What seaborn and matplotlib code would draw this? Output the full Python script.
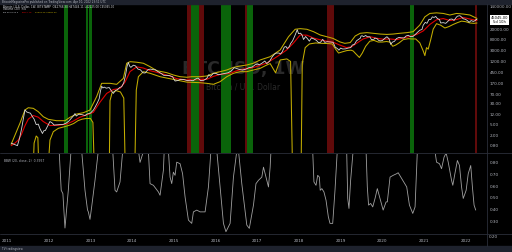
import matplotlib
matplotlib.use("Agg")
import matplotlib.pyplot as plt
from matplotlib.patches import Rectangle
import seaborn as sns

# ---------------- data ----------------
price_years = [2011.10, 2011.17, 2011.25, 2011.30, 2011.35, 2011.39, 2011.43, 2011.47, 2011.52, 2011.56,
               2011.60, 2011.65, 2011.70, 2011.75, 2011.79, 2011.85, 2011.88, 2011.92, 2011.97, 2012.03,
               2012.08, 2012.13, 2012.20, 2012.27, 2012.35, 2012.42, 2012.48, 2012.55, 2012.60, 2012.63,
               2012.66, 2012.72, 2012.80, 2012.87, 2012.93, 2013.00, 2013.07, 2013.12, 2013.17, 2013.21,
               2013.24, 2013.27, 2013.30, 2013.33, 2013.38, 2013.45, 2013.50, 2013.55, 2013.60, 2013.65,
               2013.70, 2013.75, 2013.80, 2013.84, 2013.88, 2013.91, 2013.94, 2013.97, 2014.03, 2014.08,
               2014.14, 2014.20, 2014.26, 2014.31, 2014.38, 2014.44, 2014.50, 2014.56, 2014.63, 2014.70,
               2014.76, 2014.83, 2014.90, 2014.97, 2015.03, 2015.10, 2015.16, 2015.24, 2015.32, 2015.40,
               2015.46, 2015.52, 2015.58, 2015.64, 2015.72, 2015.79, 2015.84, 2015.88, 2015.95, 2016.00,
               2016.07, 2016.14, 2016.20, 2016.30, 2016.38, 2016.45, 2016.50, 2016.57, 2016.64, 2016.72,
               2016.80, 2016.88, 2016.95, 2017.00, 2017.05, 2017.12, 2017.18, 2017.23, 2017.30, 2017.36,
               2017.41, 2017.46, 2017.52, 2017.56, 2017.60, 2017.65, 2017.69, 2017.72, 2017.77, 2017.80,
               2017.85, 2017.90, 2017.96, 2017.99, 2018.04, 2018.08, 2018.11, 2018.16, 2018.21, 2018.25,
               2018.30, 2018.36, 2018.42, 2018.47, 2018.52, 2018.57, 2018.62, 2018.68, 2018.75, 2018.82,
               2018.87, 2018.93, 2018.96, 2019.00, 2019.05, 2019.12, 2019.18, 2019.24, 2019.28, 2019.33,
               2019.38, 2019.42, 2019.47, 2019.49, 2019.52, 2019.55, 2019.60, 2019.64, 2019.70, 2019.74,
               2019.80, 2019.82, 2019.88, 2019.91, 2019.95, 2020.00, 2020.05, 2020.11, 2020.16, 2020.20,
               2020.24, 2020.29, 2020.34, 2020.40, 2020.45, 2020.52, 2020.57, 2020.62, 2020.68, 2020.74,
               2020.80, 2020.85, 2020.90, 2020.95, 2020.98, 2021.03, 2021.07, 2021.12, 2021.16, 2021.20,
               2021.24, 2021.28, 2021.32, 2021.37, 2021.40, 2021.46, 2021.52, 2021.57, 2021.62, 2021.67,
               2021.72, 2021.77, 2021.80, 2021.86, 2021.90, 2021.94, 2021.99, 2022.04, 2022.08, 2022.13,
               2022.18, 2022.23, 2022.25, 2022.27]
price_vals = [1.0, 0.9, 0.8, 1.5, 3.5, 8.0, 18.0, 15.0, 14.0, 13.5,
              10.5, 8.0, 5.0, 5.2, 3.5, 2.3, 2.9, 3.0, 4.3, 6.5,
              5.8, 4.8, 4.9, 5.0, 5.1, 5.7, 6.7, 9.0, 11.0, 13.0,
              10.5, 12.3, 11.8, 11.0, 12.6, 13.5, 17.5, 24.0, 34.0, 47.0,
              90.0, 140.0, 120.0, 130.0, 118.0, 125.0, 95.0, 75.0, 97.0, 104.0,
              125.0, 134.0, 190.0, 350.0, 800.0, 1100.0, 800.0, 720.0, 870.0, 820.0,
              620.0, 580.0, 450.0, 440.0, 590.0, 620.0, 590.0, 580.0, 490.0, 420.0,
              360.0, 360.0, 350.0, 320.0, 220.0, 230.0, 255.0, 250.0, 230.0, 235.0,
              225.0, 260.0, 285.0, 230.0, 235.0, 275.0, 380.0, 330.0, 430.0, 430.0,
              380.0, 400.0, 415.0, 450.0, 530.0, 700.0, 660.0, 600.0, 570.0, 610.0,
              700.0, 740.0, 900.0, 970.0, 900.0, 1050.0, 1250.0, 1000.0, 1250.0, 1800.0,
              2250.0, 2500.0, 2500.0, 2300.0, 2800.0, 4200.0, 4400.0, 3700.0, 4400.0, 5700.0,
              7300.0, 11000.0, 19000.0, 13500.0, 14000.0, 11500.0, 8100.0, 10500.0, 8500.0, 7000.0,
              9300.0, 8500.0, 7500.0, 6200.0, 6400.0, 8200.0, 6300.0, 6700.0, 6500.0, 6350.0,
              4200.0, 3600.0, 3200.0, 3850.0, 3550.0, 3600.0, 3850.0, 4000.0, 5000.0, 5300.0,
              7200.0, 8000.0, 9000.0, 11000.0, 11200.0, 10300.0, 11500.0, 10300.0, 10200.0, 8000.0,
              8300.0, 9200.0, 8600.0, 7500.0, 7200.0, 7400.0, 8700.0, 10300.0, 8700.0, 5300.0,
              6400.0, 6900.0, 8800.0, 9700.0, 9400.0, 9200.0, 11000.0, 11700.0, 10300.0, 10700.0,
              13000.0, 15500.0, 18200.0, 19300.0, 28000.0, 36000.0, 33000.0, 47000.0, 46000.0, 58000.0,
              55000.0, 60000.0, 50000.0, 46000.0, 34000.0, 35000.0, 33000.0, 39000.0, 47000.0, 48000.0,
              42500.0, 55000.0, 61500.0, 64000.0, 57000.0, 49000.0, 47000.0, 42000.0, 36000.0, 42000.0,
              39000.0, 42000.0, 47000.0, 45045.0]

sma_years = [2011.10, 2011.19, 2011.27, 2011.35, 2011.43, 2011.51, 2011.63, 2011.75, 2011.87, 2012.03,
             2012.23, 2012.43, 2012.59, 2012.75, 2012.91, 2013.07, 2013.23, 2013.39, 2013.55, 2013.71,
             2013.83, 2013.95, 2014.11, 2014.27, 2014.43, 2014.59, 2014.75, 2014.91, 2015.07, 2015.31,
             2015.63, 2015.79, 2015.95, 2016.11, 2016.35, 2016.51, 2016.67, 2016.83, 2016.99, 2017.23,
             2017.47, 2017.71, 2017.87, 2018.03, 2018.19, 2018.35, 2018.51, 2018.67, 2018.82, 2018.98,
             2019.14, 2019.26, 2019.38, 2019.54, 2019.71, 2019.87, 2020.02, 2020.18, 2020.35, 2020.50,
             2020.66, 2020.82, 2020.98, 2021.14, 2021.30, 2021.46, 2021.62, 2021.78, 2021.94, 2022.10,
             2022.27]
sma_vals = [0.8, 1.0, 1.3, 2.2, 4.5, 8.0, 11.0, 9.5, 6.5, 4.6,
            4.7, 5.2, 6.8, 9.5, 11.5, 14.5, 35.0, 75.0, 105.0, 115.0,
            200.0, 500.0, 750.0, 680.0, 540.0, 470.0, 400.0, 340.0, 270.0, 240.0,
            245.0, 255.0, 330.0, 390.0, 430.0, 540.0, 620.0, 660.0, 780.0, 1050.0,
            1800.0, 3300.0, 6000.0, 12000.0, 11800.0, 9200.0, 7900.0, 7000.0, 6400.0, 5000.0,
            4000.0, 4300.0, 5800.0, 8500.0, 10300.0, 9000.0, 8300.0, 8500.0, 8000.0, 9300.0,
            10500.0, 12500.0, 17000.0, 30000.0, 45000.0, 50000.0, 42000.0, 46000.0, 55000.0, 48000.0,
            42160.0]

upper_years = [2011.10, 2011.31, 2011.43, 2011.51, 2011.63, 2011.75, 2011.87, 2011.99, 2012.19, 2012.39,
               2012.51, 2012.67, 2012.83, 2012.99, 2013.15, 2013.27, 2013.47, 2013.63, 2013.79, 2013.87,
               2013.95, 2014.11, 2014.27, 2014.43, 2014.59, 2014.83, 2014.99, 2015.15, 2015.31, 2015.43,
               2015.63, 2015.79, 2015.95, 2016.11, 2016.27, 2016.43, 2016.59, 2016.75, 2016.91, 2017.07,
               2017.31, 2017.55, 2017.75, 2017.91, 2018.03, 2018.19, 2018.35, 2018.51, 2018.67, 2018.82,
               2018.98, 2019.10, 2019.23, 2019.35, 2019.47, 2019.63, 2019.78, 2019.95, 2020.11, 2020.26,
               2020.42, 2020.59, 2020.74, 2020.90, 2021.02, 2021.14, 2021.30, 2021.46, 2021.62, 2021.78,
               2021.94, 2022.10, 2022.27]
upper_vals = [0.9, 5.6, 17.7, 21.6, 20.5, 15.3, 9.9, 7.9, 7.0, 7.0,
              9.4, 12.5, 14.0, 17.7, 57.0, 180.0, 180.0, 165.0, 277.0, 1030.0,
              1180.0, 1125.0, 1030.0, 765.0, 540.0, 455.0, 371.0, 320.0, 305.0, 320.0,
              320.0, 340.0, 430.0, 495.0, 573.0, 720.0, 810.0, 885.0, 1030.0, 1367.0,
              1820.0, 3260.0, 10300.0, 19700.0, 20800.0, 19700.0, 16000.0, 12000.0, 10300.0, 8900.0,
              6600.0, 5800.0, 6200.0, 11000.0, 13900.0, 14700.0, 13900.0, 13000.0, 12600.0, 13000.0,
              13900.0, 14700.0, 16000.0, 28600.0, 58000.0, 78000.0, 82000.0, 78000.0, 68000.0, 78000.0,
              74000.0, 68000.0, 50600.0]

lower_years = [2011.10, 2011.62, 2011.65, 2011.70, 2011.74, 2011.77, 2011.97, 2012.03, 2012.11, 2012.23,
               2012.39, 2012.51, 2012.60, 2012.70, 2012.80, 2012.90, 2013.00, 2013.06, 2013.10, 2013.45,
               2013.47, 2013.52, 2013.62, 2013.72, 2013.80, 2013.84, 2014.06, 2014.10, 2014.15, 2014.27,
               2014.43, 2014.67, 2014.98, 2015.31, 2015.63, 2015.79, 2015.95, 2016.11, 2016.27, 2016.43,
               2016.59, 2016.75, 2016.91, 2017.07, 2017.23, 2017.31, 2017.44, 2017.55, 2017.71, 2017.80,
               2017.85, 2018.05, 2018.08, 2018.15, 2018.25, 2018.40, 2018.55, 2018.70, 2018.80, 2018.88,
               2018.95, 2019.05, 2019.15, 2019.25, 2019.30, 2019.38, 2019.45, 2019.52, 2019.60, 2019.70,
               2019.80, 2019.90, 2020.00, 2020.10, 2020.18, 2020.25, 2020.32, 2020.40, 2020.50, 2020.62,
               2020.70, 2020.80, 2020.90, 2020.98, 2021.02, 2021.06, 2021.10, 2021.16, 2021.22, 2021.30,
               2021.40, 2021.50, 2021.60, 2021.70, 2021.80, 2021.90, 2022.00, 2022.10, 2022.20, 2022.27]
lower_vals = [0.05, 0.05, 1.0, 1.85, 1.6, 0.05, 0.05, 1.3, 2.7, 3.6,
              4.2, 4.8, 5.5, 7.0, 8.0, 8.5, 8.5, 6.0, 0.05, 0.05,
              40.0, 80.0, 95.0, 85.0, 50.0, 0.05, 0.05, 100.0, 320.0, 495.0,
              430.0, 320.0, 255.0, 200.0, 190.0, 180.0, 165.0, 208.0, 320.0, 430.0,
              495.0, 495.0, 573.0, 660.0, 885.0, 1000.0, 450.0, 1367.0, 1500.0, 1200.0,
              0.05, 0.05, 1000.0, 4000.0, 5500.0, 6000.0, 5800.0, 5700.0, 5500.0, 3500.0,
              2500.0, 2800.0, 3100.0, 3200.0, 3000.0, 2200.0, 1700.0, 2500.0, 4500.0, 7000.0,
              7500.0, 6500.0, 6500.0, 6800.0, 6500.0, 4500.0, 5000.0, 6000.0, 8000.0, 8700.0,
              8500.0, 8500.0, 6000.0, 3000.0, 2000.0, 4000.0, 3500.0, 8000.0, 20000.0, 32000.0,
              28000.0, 22000.0, 25000.0, 30000.0, 35000.0, 40000.0, 38000.0, 34000.0, 33000.0, 34000.0]

osc_years = [2012.20, 2012.25, 2012.30, 2012.34, 2012.39, 2012.47, 2012.535, 2012.66, 2012.79, 2012.87,
             2012.93, 2012.95, 2012.99, 2013.03, 2013.11, 2013.19, 2013.36, 2013.535, 2013.59, 2013.63,
             2013.71, 2013.775, 2013.97, 2014.16, 2014.19, 2014.23, 2014.26, 2014.32, 2014.39, 2014.43,
             2014.51, 2014.63, 2014.67, 2014.75, 2014.77, 2014.82, 2014.87, 2014.91, 2014.95, 2014.99,
             2015.03, 2015.07, 2015.15, 2015.21, 2015.27, 2015.35, 2015.43, 2015.47, 2015.55, 2015.63,
             2015.75, 2015.83, 2015.89, 2015.96, 2016.03, 2016.11, 2016.19, 2016.25, 2016.35, 2016.43,
             2016.51, 2016.53, 2016.55, 2016.63, 2016.75, 2016.81, 2016.91, 2016.97, 2017.03, 2017.11,
             2017.15, 2017.19, 2017.27, 2017.31, 2017.33, 2017.80, 2018.33, 2018.36, 2018.41, 2018.45,
             2018.49, 2018.51, 2018.55, 2018.60, 2018.65, 2018.705, 2018.745, 2018.81, 2018.865, 2018.92,
             2019.03, 2019.145, 2019.17, 2019.20, 2019.24, 2019.30, 2019.45, 2019.61, 2019.64, 2019.67,
             2019.72, 2019.77, 2019.825, 2019.88, 2019.945, 2020.02, 2020.09, 2020.12, 2020.185, 2020.26,
             2020.345, 2020.38, 2020.465, 2020.585, 2020.65, 2020.73, 2020.785, 2020.84, 2021.05, 2021.26,
             2021.30, 2021.37, 2021.42, 2021.48, 2021.53, 2021.58, 2021.66, 2021.69, 2021.74, 2021.80,
             2021.85, 2021.90, 2021.94, 2022.01, 2022.06, 2022.12, 2022.16, 2022.20, 2022.24]
osc_vals = [1.00, 0.90, 0.565, 0.537, 0.247, 0.565, 0.90, 1.00, 0.90, 0.565,
            0.40, 0.383, 0.32, 0.425, 0.649, 0.90, 1.00, 0.90, 0.565, 0.551,
            0.635, 0.90, 1.00, 0.88, 0.80, 0.845, 0.88, 1.00, 0.90, 0.621,
            0.607, 0.551, 0.523, 0.733, 0.90, 1.00, 0.90, 0.676, 0.621, 0.718,
            0.691, 0.802, 0.789, 0.705, 0.509, 0.314, 0.286, 0.383, 0.398, 0.383,
            0.383, 0.593, 0.90, 1.00, 0.90, 0.593, 0.286, 0.216, 0.286, 0.676,
            0.90, 0.95, 0.90, 0.621, 0.272, 0.244, 0.44, 0.621, 0.649, 0.676,
            0.76, 0.705, 0.593, 0.76, 0.90, 1.00, 0.90, 0.635, 0.607, 0.691,
            0.676, 0.565, 0.579, 0.551, 0.481, 0.342, 0.286, 0.286, 0.565, 0.90,
            1.00, 0.90, 0.496, 0.412, 0.649, 0.90, 1.00, 0.90, 0.593, 0.44,
            0.454, 0.425, 0.496, 0.579, 0.496, 0.398, 0.467, 0.467, 0.676, 0.691,
            0.705, 0.713, 0.663, 0.593, 0.44, 0.37, 0.425, 0.90, 1.00, 0.90,
            0.802, 0.789, 0.747, 0.844, 0.88, 0.802, 0.649, 0.607, 0.705, 0.816,
            0.774, 0.593, 0.496, 0.565, 0.705, 0.774, 0.593, 0.44, 0.398]

green_spans = [(2012.37, 2012.46), (2012.89, 2012.94), (2012.97, 2013.04), (2015.41, 2015.60),
               (2016.13, 2016.37), (2016.76, 2016.90), (2020.66, 2020.76)]
red_spans = [(2015.32, 2015.41), (2015.60, 2015.72), (2016.71, 2016.76), (2018.67, 2018.84),
             (2022.22, 2022.27)]

year_ticks = list(range(2011, 2023))
price_ticks = [0.8, 2, 5, 12, 30, 70, 170, 450, 1200, 3000, 8000, 20000, 140000]
osc_ticks = [0.3, 0.4, 0.5, 0.6, 0.7, 0.8]

# ---------------- style ----------------
BG = "#000000"
PANEL = "#1e222d"
GRIDC = "#2a2e39"
TXT = "#b2b5be"
sns.set_style("dark", {"axes.facecolor": BG, "figure.facecolor": BG})
plt.rcParams["font.family"] = ["DejaVu Sans"]

W, H = 512, 252
fig = plt.figure(figsize=(W / 100, H / 100), dpi=100, facecolor=BG)


def box(x0, y0, x1, y1):
    return [x0 / W, 1 - y1 / H, (x1 - x0) / W, (y1 - y0) / H]


ax1 = fig.add_axes(box(2, 4, 487, 152.5))
ax2 = fig.add_axes(box(2, 153.5, 487, 233))

XMIN, XMAX = 2010.88, 2022.51
for ax in (ax1, ax2):
    ax.set_facecolor(BG)
    ax.set_xlim(XMIN, XMAX)
    for s in ax.spines.values():
        s.set_visible(False)
    ax.grid(False)

# ---- top pane ----
for a, b in green_spans:
    ax1.axvspan(a, b, color="#0a640a", lw=0, zorder=1)
for a, b in red_spans:
    ax1.axvspan(a, b, color="#600a0a", lw=0, zorder=1)

ax1.text(0.497, 0.565, "BTCUSD, 1W", transform=ax1.transAxes, ha="center", va="center",
         fontsize=12.5, color="#2a2a2a", fontweight="bold", zorder=0.5)
ax1.text(0.497, 0.44, "Bitcoin / U.S. Dollar", transform=ax1.transAxes, ha="center", va="center",
         fontsize=5.5, color="#2a2a2a", zorder=0.5)

sns.lineplot(x=upper_years, y=upper_vals, ax=ax1, color="#c4ae00", lw=0.75, estimator=None, zorder=3)
sns.lineplot(x=lower_years, y=lower_vals, ax=ax1, color="#c4ae00", lw=0.75, estimator=None, zorder=3)
sns.lineplot(x=sma_years, y=sma_vals, ax=ax1, color="#e00000", lw=0.8, estimator=None, zorder=4)
sns.lineplot(x=price_years, y=price_vals, ax=ax1, color="#d8d8d8", lw=0.6, estimator=None, zorder=5)

ax1.set_yscale("log")
ax1.set_ylim(0.442, 177000)
ax1.yaxis.tick_right()
ax1.set_yticks(price_ticks)
ax1.set_yticklabels([f"{v:.2f}" for v in price_ticks])
ax1.minorticks_off()
ax1.tick_params(axis="y", length=0, labelsize=3.0, colors=TXT, pad=2)
ax1.tick_params(axis="x", length=0, labelbottom=False)
ax1.set_xlabel("")
ax1.set_ylabel("")

# ---- bottom pane ----
sns.lineplot(x=osc_years, y=osc_vals, ax=ax2, color="#a0a0a0", lw=0.6, estimator=None)
ax2.set_ylim(0.205, 0.875)
ax2.yaxis.tick_right()
ax2.set_yticks(osc_ticks)
ax2.set_yticklabels([f"{v:.2f}" for v in osc_ticks])
ax2.tick_params(axis="y", length=0, labelsize=3.0, colors=TXT, pad=2)
ax2.set_xticks(year_ticks)
ax2.set_xticklabels([str(y) for y in year_ticks])
ax2.tick_params(axis="x", length=0, labelsize=3.0, colors=TXT, pad=4)
ax2.set_xlabel("")
ax2.set_ylabel("")
ax2.text(0.004, 0.93, "BBW (20, close, 2)  0.3957", transform=ax2.transAxes, fontsize=2.2,
         color=TXT, va="top")

# ---- frame elements ----
fig.patches.append(Rectangle((0, 1 - 4 / H), 1, 4 / H, transform=fig.transFigure, color=PANEL, zorder=0))
fig.patches.append(Rectangle((0, 0), 1, 6 / H, transform=fig.transFigure, color=PANEL, zorder=0))
fig.add_artist(plt.Line2D([487 / W, 487 / W], [6 / H, 1 - 4 / H], transform=fig.transFigure, color=GRIDC, lw=0.6))
fig.add_artist(plt.Line2D([0, 1], [1 - 153 / H, 1 - 153 / H], transform=fig.transFigure, color=GRIDC, lw=0.6))
fig.add_artist(plt.Line2D([0, 1], [1 - 233.5 / H, 1 - 233.5 / H], transform=fig.transFigure, color=GRIDC, lw=0.6))

fig.text(2 / W, 1 - 2 / H, "BitcoinMagazinePro published on TradingView.com, Apr 10, 2022 23:51 UTC",
         fontsize=2.0, color=TXT, va="center")
fig.text(3 / W, 1 - 6.5 / H, "Bitcoin / U.S. Dollar, 1W, BITSTAMP  O42768.30 H47444.11 L42125.00 C45045.00",
         fontsize=2.0, color="#d1d4dc", va="center")
fig.text(3 / W, 1 - 9.5 / H, "Volume (20)  n/a", fontsize=2.0, color="#d1d4dc", va="center")
fig.text(3 / W, 1 - 12.5 / H, "BB 20 close 2", fontsize=1.6, color="#d1d4dc", va="center")
fig.text(22 / W, 1 - 12.5 / H, "42160.18", fontsize=1.6, color="#e00000", va="center")
fig.text(35 / W, 1 - 12.5 / H, "50638.06 33682.30", fontsize=1.6, color="#c4ae00", va="center")
fig.text(2 / W, 1 - 249 / H, "TV tradingview", fontsize=2.0, color=TXT, va="center")
fig.text(489 / W, 1 - 236.5 / H, "0.20", fontsize=3.0, color=TXT, va="center")

fig.text(499.5 / W, 1 - 20 / H, "45045.00\n5d 10h", fontsize=2.6, color="#000000", ha="center",
         va="center", linespacing=1.1,
         bbox=dict(boxstyle="square,pad=0.25", fc="#ffffff", ec="none"))

fig.savefig("out.png", dpi=100, facecolor=BG)
